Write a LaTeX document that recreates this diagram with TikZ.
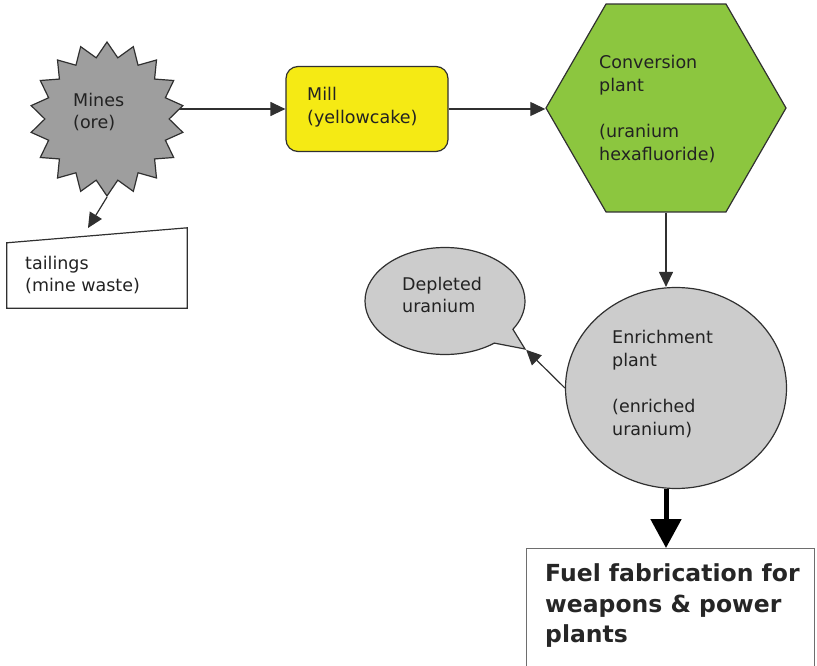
\documentclass[tikz,border=0pt]{standalone}
\usepackage{fontspec}
\setmainfont{DejaVu Sans}
\usetikzlibrary{shapes.geometric,shapes.callouts,arrows.meta,backgrounds}

\definecolor{edge}{HTML}{303030}
\definecolor{txt}{HTML}{222222}
\definecolor{stargray}{HTML}{9E9E9E}
\definecolor{lgray}{HTML}{CCCCCC}
\definecolor{millyellow}{HTML}{F5EA14}
\definecolor{convgreen}{HTML}{8CC63F}

\tikzstyle{box} = [draw=edge, line width=1.2pt]
\tikzstyle{lbl} = [font=\fontsize{17.5}{22.5}\selectfont, text=txt, align=left, inner sep=0pt, anchor=west]
\tikzstyle{bigtxt} = [font=\bfseries\fontsize{23.5}{30.5}\selectfont, text=black!85, align=left, inner sep=0pt, anchor=west]
\tikzstyle{arr} = [draw=edge, line width=1.2pt, -{Triangle[length=15pt,width=14pt]}]
\tikzstyle{fatarr} = [draw=black, line width=5pt, -{Triangle[length=29pt,width=30pt]}]

\begin{document}
\begin{tikzpicture}[x=1pt, y=-1pt]
\useasboundingbox (0,0) rectangle (817,666);

% shapes
\node[box, star, star points=18, star point ratio=1.24, minimum size=154pt, inner sep=0pt, fill=stargray] (mines) at (107,119) {};
\node[box, rounded corners=12pt, minimum width=162pt, minimum height=85pt, fill=millyellow] (mill) at (367,109) {};
\node[box, regular polygon, regular polygon sides=6, minimum size=240pt, inner sep=0pt, fill=convgreen] (conv) at (666,108) {};
\node[minimum width=180pt, minimum height=80pt] (tail) at (97,268) {};
\draw[box] (tail.south west) -- (tail.south east) -- (tail.north east) -- ([yshift=-15pt]tail.north west) -- cycle;
\node[box, ellipse, minimum width=221pt, minimum height=201pt, inner sep=0pt, fill=lgray] (enrich) at (676,388) {};
\node[box, ellipse callout, callout absolute pointer={(525,349)}, callout pointer arc=20, minimum width=160pt, minimum height=107pt, inner sep=0pt, fill=lgray] (dep) at (445,301) {};
\node[draw=edge!70, line width=1.2pt, minimum width=288pt, minimum height=118pt, anchor=north west] (fuel) at (526,548) {};

% texts
\node[lbl] (minestxt) at (73,112) {Mines\\(ore)};
\node[lbl] (milltxt) at (307,107) {Mill\\(yellowcake)};
\node[lbl] (convtxt) at (599,109) {Conversion\\plant\\[24pt](uranium\\hexafluoride)};
\node[lbl] (tailtxt) at (25,275) {tailings\\(mine waste)};
\node[lbl] (deptxt) at (402,295) {Depleted\\uranium};
\node[lbl] (enrichtxt) at (612,384) {Enrichment\\plant\\[24pt](enriched\\uranium)};
\node[bigtxt] (fueltxt) at (545,606) {Fuel fabrication for\\weapons \& power\\plants};

% connectors
\begin{scope}[on background layer]
\draw[arr] (mill.west -| mines.center) -- (mill.west);
\end{scope}
\coordinate (tailtip) at (88,228);
\draw[arr] (mill.east) -- (mill.east -| conv.west);
\draw[arr] (mines.south) -- (tailtip);
\draw[arr] (conv.south) -- (conv.south |- enrich.north);
\draw[arr] (enrich.west) -- (dep.pointer);
\draw[fatarr] (conv.south |- enrich.south) -- (conv.south |- fuel.north);
\end{tikzpicture}
\end{document}
